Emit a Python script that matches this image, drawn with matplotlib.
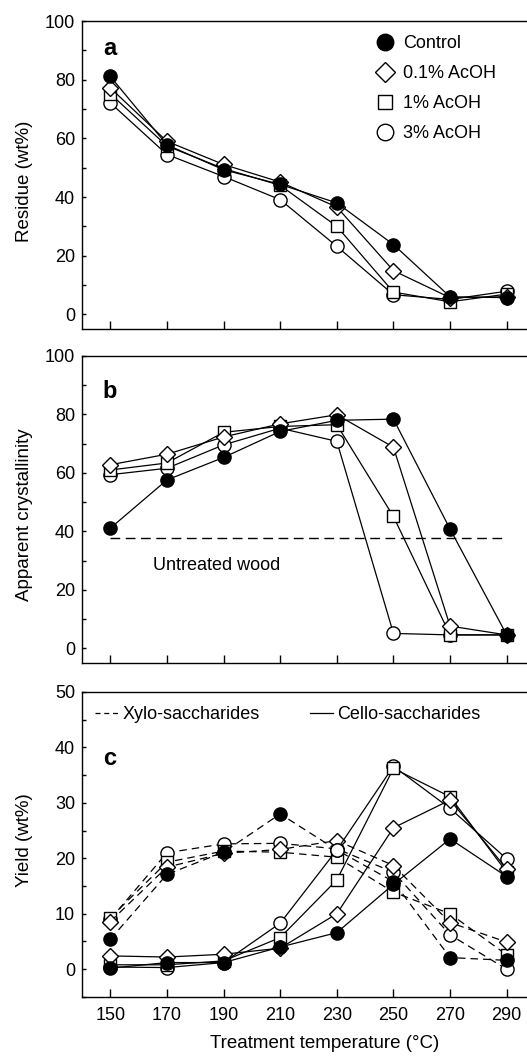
import matplotlib
matplotlib.use("Agg")
import matplotlib.pyplot as plt
from matplotlib.ticker import MultipleLocator
from matplotlib.lines import Line2D

plt.rcParams['font.family'] = ['Liberation Sans', 'DejaVu Sans']
plt.rcParams['font.size'] = 13

temps = [150, 170, 190, 210, 230, 250, 270, 290]
labels = ["Control", "0.1% AcOH", "1% AcOH", "3% AcOH"]

# (a) residue, wt%
residue_control = [81.1, 57.8, 49.3, 44.3, 38.0, 23.8, 6.0, 5.7]
residue_01 = [77.2, 59.0, 51.1, 45.1, 36.6, 14.9, 5.7, 6.0]
residue_1 = [75.2, 57.4, 49.7, 44.0, 30.0, 7.6, 4.3, 6.9]
residue_3 = [72.1, 54.5, 47.0, 39.1, 23.2, 6.7, 5.1, 7.9]

# (b) apparent crystallinity
cryst_control = [41.1, 57.6, 65.3, 74.2, 78.0, 78.4, 40.8, 4.6]
cryst_01 = [62.8, 66.4, 72.3, 76.8, 79.9, 68.8, 7.6, 4.6]
cryst_1 = [61.0, 63.4, 73.9, 75.9, 76.5, 45.1, 4.6, 4.6]
cryst_3 = [59.4, 61.6, 69.6, 75.3, 70.8, 5.1, 4.6, 4.6]
untreated_wood = 37.7

# (c) yields, wt%
xylo_control = [5.4, 17.1, 21.1, 28.0, 21.5, 15.8, 2.1, 1.6]
xylo_01 = [8.6, 18.4, 20.9, 21.6, 23.2, 18.7, 8.4, 4.9]
xylo_1 = [9.3, 19.3, 21.3, 21.1, 20.2, 13.9, 10.0, 2.6]
xylo_3 = [9.0, 21.0, 22.6, 22.7, 21.7, 17.5, 6.2, 0.0]
cello_control = [0.2, 1.2, 1.2, 4.0, 6.6, 15.3, 23.5, 16.7]
cello_01 = [2.4, 2.2, 2.7, 3.8, 10.0, 25.5, 30.5, 18.1]
cello_1 = [0.8, 0.8, 1.5, 5.7, 16.1, 36.2, 31.1, 17.5]
cello_3 = [0.4, 0.3, 1.2, 8.3, 21.5, 36.6, 29.0, 19.9]

# marker style per series: control, 0.1%, 1%, 3%
styles = [
    dict(marker='o', markersize=9.5, markerfacecolor='black'),
    dict(marker='D', markersize=8, markerfacecolor='white'),
    dict(marker='s', markersize=8.5, markerfacecolor='white'),
    dict(marker='o', markersize=9.5, markerfacecolor='white'),
]


def draw_series(ax, series, ls='-'):
    # draw 3%, 1%, 0.1% then control so filled circles sit on top
    for i in [3, 2, 1, 0]:
        ax.plot(temps, series[i], color='black', lw=0.9, linestyle=ls,
                markeredgecolor='black', markeredgewidth=1.0, **styles[i])


def style_axis(ax, ymax, major, minor, show_x):
    ax.set_xlim(140, 300)
    ax.set_ylim(-5, ymax)
    ax.set_xticks(temps)
    ax.yaxis.set_major_locator(MultipleLocator(major))
    ax.yaxis.set_minor_locator(MultipleLocator(minor))
    ax.set_ylim(-5, ymax)
    ax.tick_params(axis='x', direction='in', length=5.5, width=1, pad=7,
                   top=False, labelbottom=show_x)
    ax.tick_params(axis='y', which='both', direction='in', length=3, width=1,
                   pad=5, right=False)
    for sp in ax.spines.values():
        sp.set_linewidth(1.0)


fig = plt.figure(figsize=(5.27, 10.57), dpi=100)
left, width = 0.1556, 0.8596
ax_a = fig.add_axes([left, 0.6887, width, 0.2914])
ax_b = fig.add_axes([left, 0.3728, width, 0.2904])
ax_c = fig.add_axes([left, 0.0568, width, 0.2886])

# panel a
draw_series(ax_a, [residue_control, residue_01, residue_1, residue_3])
style_axis(ax_a, 100, 20, 10, False)
ax_a.set_ylabel("Residue (wt%)", fontsize=13.5)
ax_a.yaxis.set_label_coords(-0.108, 0.48)
ax_a.text(0.046, 0.89, "a", transform=ax_a.transAxes, fontsize=17,
          fontweight='bold', va='baseline')
handles = [Line2D([], [], linestyle='none', markeredgecolor='black',
                  markeredgewidth=1.0, **styles[i]) for i in range(4)]
ax_a.legend(handles, labels, loc='upper left', bbox_to_anchor=(0.649, 0.955),
            frameon=False, handlelength=1.0, handletextpad=0.5,
            labelspacing=0.72, borderpad=0, borderaxespad=0, markerscale=1.25,
            fontsize=13)

# panel b
draw_series(ax_b, [cryst_control, cryst_01, cryst_1, cryst_3])
ax_b.hlines(untreated_wood, 150, 290, colors='black', lw=1.0,
            linestyles=(0, (7, 4)))
ax_b.text(165, 28.4, "Untreated wood", va='center', ha='left', fontsize=13)
style_axis(ax_b, 100, 20, 10, False)
ax_b.set_ylabel("Apparent crystallinity", fontsize=13.5)
ax_b.yaxis.set_label_coords(-0.108, 0.482)
ax_b.text(0.046, 0.863, "b", transform=ax_b.transAxes, fontsize=17,
          fontweight='bold', va='baseline')

# panel c
draw_series(ax_c, [xylo_control, xylo_01, xylo_1, xylo_3], ls=(0, (6, 4)))
draw_series(ax_c, [cello_control, cello_01, cello_1, cello_3])
style_axis(ax_c, 50, 10, 5, True)
ax_c.set_ylabel("Yield (wt%)", fontsize=13.5)
ax_c.yaxis.set_label_coords(-0.108, 0.515)
ax_c.set_xlabel("Treatment temperature (°C)", fontsize=13.5)
ax_c.xaxis.set_label_coords(0.536, -0.125)
ax_c.text(0.046, 0.76, "c", transform=ax_c.transAxes, fontsize=17,
          fontweight='bold', va='baseline')
leg_handles = [Line2D([], [], color='black', lw=0.9, linestyle=(0, (4, 3))),
               Line2D([], [], color='black', lw=0.9)]
ax_c.legend(leg_handles, ["Xylo-saccharides", "Cello-saccharides"], ncol=2,
            loc='center left', bbox_to_anchor=(0.029, 0.925), frameon=False,
            handlelength=1.3, handletextpad=0.2, columnspacing=2.8,
            borderpad=0, borderaxespad=0, fontsize=13)

fig.savefig("out.png", dpi=100)
